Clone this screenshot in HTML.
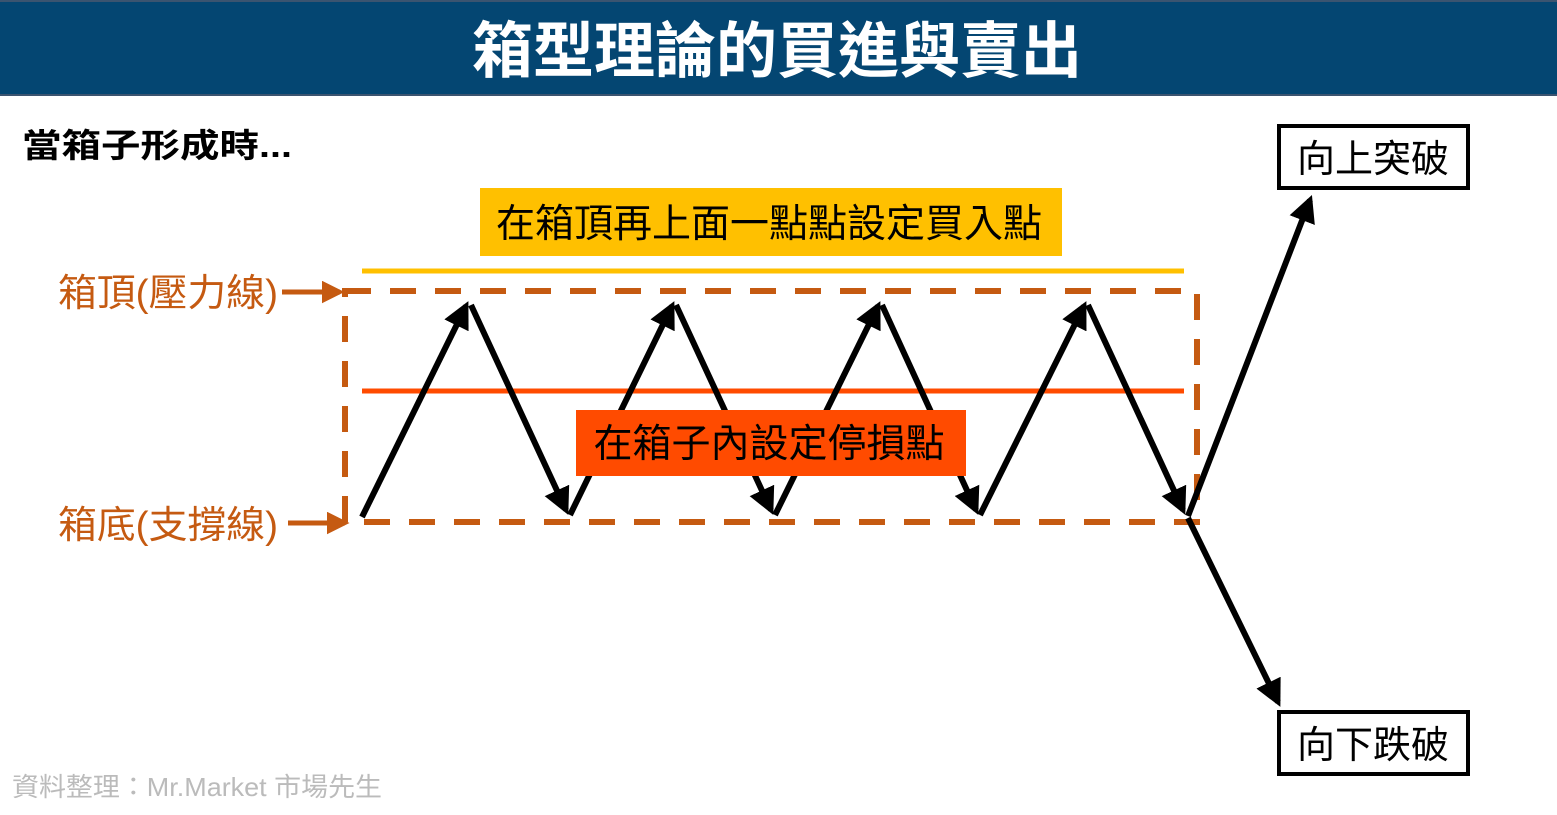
<!DOCTYPE html>
<html><head><meta charset="utf-8"><style>
html,body{margin:0;padding:0;background:#fff;width:1557px;height:815px;overflow:hidden}
svg{display:block}
text{font-family:"Liberation Sans","Noto Sans CJK TC","Noto Sans CJK SC",sans-serif}
</style></head><body>
<svg width="1557" height="815" viewBox="0 0 1557 815" xmlns="http://www.w3.org/2000/svg">
<defs>
<marker id="ab" viewBox="0 0 10 10" refX="8" refY="5" markerWidth="4.5" markerHeight="4.5" orient="auto" markerUnits="strokeWidth"><path d="M0,0 L10,5 L0,10 z" fill="#000"/></marker>
<marker id="ao" viewBox="0 0 10 10" refX="8" refY="5" markerWidth="4.5" markerHeight="4.5" orient="auto" markerUnits="strokeWidth"><path d="M0,0 L10,5 L0,10 z" fill="#c55a11"/></marker>
</defs>
<rect x="0" y="0" width="1557" height="96" fill="#044672"/>
<rect x="0" y="0" width="1557" height="2" fill="#3b5470"/>
<rect x="0" y="94" width="1557" height="2" fill="#3b5470"/>
<text x="777" y="72" text-anchor="middle" font-size="61" font-weight="bold" fill="#fff">箱型理論的買進與賣出</text>
<text x="22" y="157" font-size="33" font-weight="bold" fill="#000" textLength="270" lengthAdjust="spacingAndGlyphs">當箱子形成時...</text>

<rect x="480" y="188" width="582" height="68" fill="#ffc000"/>
<text x="769" y="237" text-anchor="middle" font-size="39" fill="#000">在箱頂再上面一點點設定買入點</text>
<line x1="362" y1="271" x2="1184" y2="271" stroke="#ffc000" stroke-width="5"/>
<line x1="362" y1="391" x2="1184" y2="391" stroke="#ff4b00" stroke-width="5"/>

<rect x="345" y="291" width="852" height="231" fill="none" stroke="#c55a11" stroke-width="6" stroke-dasharray="26,19"/>

<text x="58" y="306" font-size="38" fill="#c55a11" textLength="220" lengthAdjust="spacingAndGlyphs">箱頂(壓力線)</text>
<line x1="282" y1="292" x2="340" y2="292" stroke="#c55a11" stroke-width="5" marker-end="url(#ao)"/>
<text x="58" y="538" font-size="38" fill="#c55a11" textLength="220" lengthAdjust="spacingAndGlyphs">箱底(支撐線)</text>
<line x1="288" y1="523" x2="345" y2="523" stroke="#c55a11" stroke-width="5" marker-end="url(#ao)"/>

<g stroke="#000" stroke-width="6" fill="none">
<line x1="362" y1="517" x2="466" y2="306" marker-end="url(#ab)"/>
<line x1="471" y1="305" x2="566" y2="510" marker-end="url(#ab)"/>
<line x1="570" y1="515" x2="672" y2="306" marker-end="url(#ab)"/>
<line x1="676" y1="305" x2="771" y2="510" marker-end="url(#ab)"/>
<line x1="775" y1="515" x2="878" y2="306" marker-end="url(#ab)"/>
<line x1="882" y1="305" x2="976" y2="510" marker-end="url(#ab)"/>
<line x1="980" y1="515" x2="1084" y2="306" marker-end="url(#ab)"/>
<line x1="1088" y1="305" x2="1183" y2="510" marker-end="url(#ab)"/>
<line x1="1188" y1="516" x2="1310" y2="200" marker-end="url(#ab)"/>
<line x1="1188" y1="518" x2="1278" y2="702" marker-end="url(#ab)"/>
</g>

<rect x="576" y="410" width="390" height="66" fill="#ff4b00"/>
<text x="769" y="457" text-anchor="middle" font-size="39" fill="#000">在箱子內設定停損點</text>

<rect x="1279" y="126" width="189" height="62" fill="#fff" stroke="#000" stroke-width="4"/>
<text x="1373" y="172" text-anchor="middle" font-size="38" fill="#000">向上突破</text>
<rect x="1279" y="712" width="189" height="62" fill="#fff" stroke="#000" stroke-width="4"/>
<text x="1373" y="758" text-anchor="middle" font-size="38" fill="#000">向下跌破</text>

<text x="12" y="796" font-size="26" fill="#bbbbbb" textLength="370" lengthAdjust="spacingAndGlyphs">資料整理：Mr.Market 市場先生</text>
</svg>
</body></html>
